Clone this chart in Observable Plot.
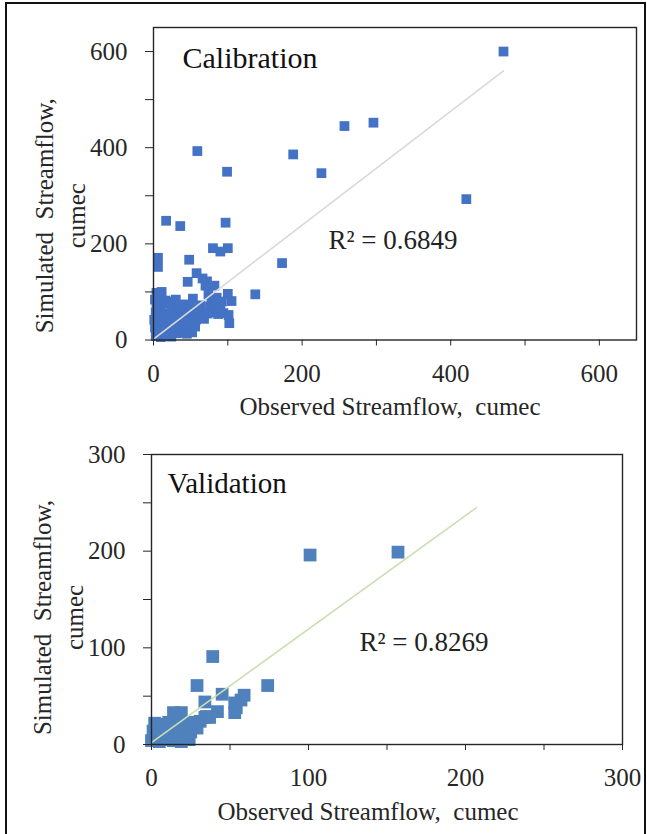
<!DOCTYPE html>
<html><head><meta charset="utf-8">
<script src="https://cdn.jsdelivr.net/npm/d3@7"></script>
<script src="https://cdn.jsdelivr.net/npm/@observablehq/plot@0.6"></script>
<style>
html,body{margin:0;padding:0;background:#fff;width:647px;height:834px;overflow:hidden}
#wrap{position:relative;width:647px;height:834px;overflow:hidden}
#border{position:absolute;left:5px;top:2px;width:641px;height:860px;border:2px solid #111;box-sizing:border-box}
.panel{position:absolute;left:0}
</style></head><body>
<div id="wrap"><div id="border"></div><div id="p1" class="panel" style="top:0"></div><div id="p2" class="panel" style="top:420px"></div></div>
<script>
// ---------- Calibration data (observed, simulated), cumec ----------
const calObs = [471,257,296,59,188,99,226,421,17,36,97,80,90,100,6,6,48,173,58,46,66,72,70,82,53,137,100,105,102,84,
  3,10,17,24,31,38,45,52,7,14,21,28,35,
  2,9,16,23,30,37,44,51,56,
  1,8,15,22,29,36,43,50,57,63,68,
  3,10,17,24,31,38,45,52,59,66,73,80,87,94,101,
  4,28,35,42,49,56,63,76,83,90,
  6,14,20,
  2,9,16,23,30,78,85,92,
  4,11,74];
const calSim = [600,445,452,393,386,350,347,293,248,237,244,191,184,191,171,152,167,160,139,121,128,122,113,113,86,95,96,81,35,85,
  8,6,9,7,14,15,13,16,16,18,16,19,20,
  26,28,25,30,27,29,26,30,28,
  42,45,40,47,43,46,41,45,42,46,44,
  57,60,55,58,61,56,59,55,60,57,55,58,54,56,52,
  70,72,68,74,70,66,72,70,74,68,
  80,76,78,
  84,88,82,80,84,84,88,80,
  98,100,95];
const calTrendObs = [0, 471];
const calTrendSim = [2, 560];
const calTicks = [0,100,200,300,400,500,600];
const calTickLabels = [0,200,400,600];

// ---------- Validation data ----------
const valObs = [0,5,9,14,19,24,
  1,6,10,15,20,25,29,
  2,7,11,16,21,26,31,34,
  14,19,35,
  37,42,34,29,39,45,53,54,53,59,57,74,101,157];
const valSim = [4,3,5,4,3,5,
  14,15,13,14,15,13,17,
  22,21,23,22,21,23,24,28,
  33,33,29,
  28,34,44,61,91,52,43,38,33,51,46,61,196,199];
const valTrendObs = [0, 207];
const valTrendSim = [2, 245];
const valTicks = [0,50,100,150,200,250,300];
const valTickLabels = [0,100,200,300];

// ---------- font: pick an installed Times-like serif ----------
const ctx = document.createElement("canvas").getContext("2d");
function width(font, s) { ctx.font = font; return ctx.measureText(s).width; }
const probe = "Observed Streamflow, cumec 0123456789";
function installed(f) {
  return width(`100px '${f}', monospace`, probe) !== width("100px monospace", probe);
}
const candidates = ["Liberation Serif", "Tinos", "Times New Roman", "Nimbus Roman", "FreeSerif", "DejaVu Serif Condensed", "DejaVu Serif", "Noto Serif"];
const chosen = candidates.find(installed) || "serif";
const serif = `'${chosen}', serif`;
const ref = "Observed Streamflow, cumec";
const k = Math.min(1, 1185 / width(`100px ${serif}`, ref));
const fs = v => v * k;

const ink = "#262626";
const calData = calObs.map((d,i)=>({obs:d, sim:calSim[i]}));
const valData = valObs.map((d,i)=>({obs:d, sim:valSim[i]}));
const calTrend = calTrendObs.map((d,i)=>({obs:d, sim:calTrendSim[i]}));
const valTrend = valTrendObs.map((d,i)=>({obs:d, sim:valTrendSim[i]}));

function panel({data, trend, domain, ticks, labels, color, r, trendColor, m, name, nameSize, nameDx, nameDy, r2, r2Dx, r2Dy, yTitleDy, xTitleDx, height}) {
  const fmt = d => labels.includes(d) ? String(d) : "";
  return Plot.plot({
    width: 647, height,
    marginLeft: m[0], marginRight: m[1], marginTop: m[2], marginBottom: m[3],
    style: `font-family: ${serif}; font-size: ${fs(25)}px; color: ${ink}; background: transparent; overflow: visible;`,
    x: {domain, label: null},
    y: {domain, label: null},
    marks: [
      Plot.dot(data, {x: "obs", y: "sim", symbol: "square", r, fill: color, stroke: "none"}),
      Plot.line(trend, {x: "obs", y: "sim", stroke: trendColor, strokeWidth: 1.6}),
      Plot.frame({stroke: ink, strokeWidth: 1.4}),
      Plot.axisX({ticks, tickFormat: fmt, tickSize: 6, tickPadding: 18, fontSize: fs(25), fontFamily: serif, label: null}),
      Plot.axisY({ticks, tickFormat: fmt, tickSize: 8, tickPadding: 18, fontSize: fs(25), fontFamily: serif, label: null}),
      Plot.text([name], {frameAnchor: "top-left", dx: nameDx, dy: nameDy, textAnchor: "start", lineAnchor: "middle", fontSize: fs(nameSize), fontFamily: serif, fill: "#111"}),
      Plot.text([r2], {frameAnchor: "top-left", dx: r2Dx, dy: r2Dy, textAnchor: "start", lineAnchor: "middle", fontSize: fs(27), fontFamily: serif, fill: "#222"}),
      Plot.text(["Simulated\u00a0 Streamflow,\ncumec"], {frameAnchor: "left", dx: -123, dy: yTitleDy, rotate: -90, textAnchor: "middle", lineAnchor: "top", lineHeight: 1.28, fontSize: fs(25), fontFamily: serif, fill: ink}),
      Plot.text(["Observed Streamflow,\u00a0 cumec"], {frameAnchor: "bottom", dx: xTitleDx, dy: 75, textAnchor: "middle", lineAnchor: "bottom", fontSize: fs(25), fontFamily: serif, fill: ink})
    ]
  });
}

document.getElementById("p1").append(panel({
  data: calData, trend: calTrend, domain: [0,650], ticks: calTicks, labels: calTickLabels,
  color: "#4472c4", r: 5.5, trendColor: "#d9d9d9", m: [153, 11, 27, 80.5], height: 420,
  name: "Calibration", nameSize: 30, nameDx: 29, nameDy: 30.5, r2: "R\u00b2 = 0.6849", r2Dx: 175, r2Dy: 213,
  yTitleDy: 32, xTitleDx: -5
}));
document.getElementById("p2").append(panel({
  data: valData, trend: valTrend, domain: [0,300], ticks: valTicks, labels: valTickLabels,
  color: "#4f81bd", r: 7.2, trendColor: "#c9dfb0", m: [151, 25, 34, 90], height: 414,
  name: "Validation", nameSize: 29, nameDx: 16, nameDy: 29, r2: "R\u00b2 = 0.8269", r2Dx: 208, r2Dy: 188,
  yTitleDy: 18, xTitleDx: -19
}));
</script>
</body></html>
